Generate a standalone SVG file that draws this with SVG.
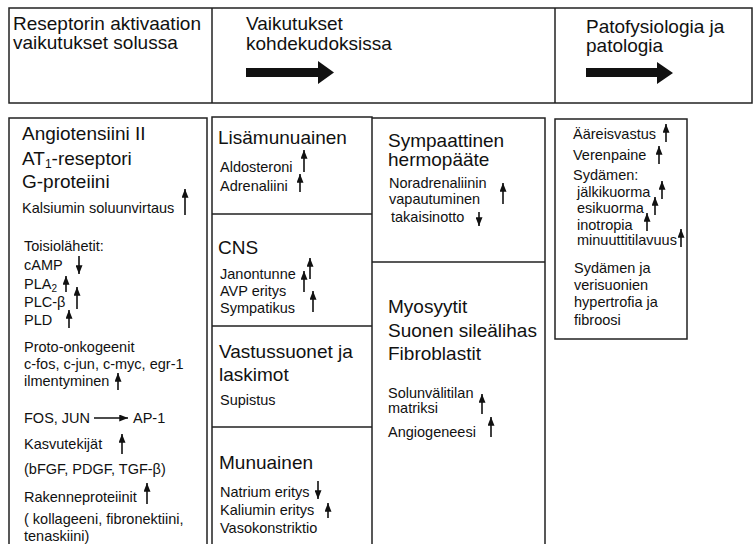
<svg xmlns="http://www.w3.org/2000/svg" width="756" height="544" viewBox="0 0 756 544">
<style>
text{font-family:"Liberation Sans",Arial,sans-serif;fill:#111}
.b{font-size:19px}
.s{font-size:14.5px}
.box{fill:none;stroke:#222;stroke-width:1.5}
.ar{stroke:#111;stroke-width:1.6;fill:none}
</style>
<defs>
<marker id="ah" viewBox="0 0 10 8" refX="10" refY="4" markerWidth="9" markerHeight="7" markerUnits="userSpaceOnUse" orient="auto">
<path d="M0,0 L10,4 L0,8 z" fill="#111"/>
</marker>
</defs>
<rect width="756" height="544" fill="#fff"/>

<g id="header">
<rect class="box" x="9" y="8" width="743" height="95"/>
<line class="box" x1="212" y1="8" x2="212" y2="103"/>
<line class="box" x1="555" y1="8" x2="555" y2="103"/>
<text class="b" x="13" y="30">Reseptorin aktivaation</text>
<text class="b" x="13" y="49">vaikutukset solussa</text>
<text class="b" x="246" y="30">Vaikutukset</text>
<text class="b" x="246" y="50">kohdekudoksissa</text>
<polygon points="246,68 318,68 318,61 334,72.5 318,84 318,77 246,77" fill="#111"/>
<text class="b" x="586" y="33">Patofysiologia ja</text>
<text class="b" x="586" y="52">patologia</text>
<polygon points="586,68 657,68 657,62 673,73 657,84 657,77 586,77" fill="#111"/>
</g>

<g id="cell">
<path class="box" d="M9,548 V118 H207 V548"/>
<text class="b" x="22" y="140">Angiotensiini II</text>
<text class="b" x="22" y="165">AT<tspan font-size="12" dy="3">1</tspan><tspan dy="-3">-reseptori</tspan></text>
<text class="b" x="22" y="188">G-proteiini</text>
<text class="s" x="22" y="213">Kalsiumin soluunvirtaus</text>
<text class="s" x="24" y="251">Toisiolähetit:</text>
<text class="s" x="24" y="270">cAMP</text>
<text class="s" x="24" y="289">PLA<tspan font-size="10" dy="3">2</tspan></text>
<text class="s" x="24" y="307">PLC-β</text>
<text class="s" x="24" y="325">PLD</text>
<text class="s" x="24" y="352">Proto-onkogeenit</text>
<text class="s" x="24" y="369">c-fos, c-jun, c-myc, egr-1</text>
<text class="s" x="24" y="386">ilmentyminen</text>
<text class="s" x="24" y="423">FOS, JUN</text>
<text class="s" x="133" y="423">AP-1</text>
<text class="s" x="24" y="449">Kasvutekijät</text>
<text class="s" x="24" y="474">(bFGF, PDGF, TGF-β)</text>
<text class="s" x="24" y="502">Rakenneproteiinit</text>
<text class="s" x="24" y="524">( kollageeni, fibronektiini,</text>
<text class="s" x="24" y="541">tenaskiini)</text>
</g>

<g id="lisamunuainen">
<path class="box" d="M212,548 V117 H372 V548 M212,214 H372 M212,326 H372 M212,427 H372"/>
<text class="b" x="218" y="144">Lisämunuainen</text>
<text class="s" x="220" y="172">Aldosteroni</text>
<text class="s" x="220" y="191">Adrenaliini</text>
</g>
<g id="cns">
<text class="b" x="218" y="254">CNS</text>
<text class="s" x="220" y="279">Janontunne</text>
<text class="s" x="220" y="296">AVP eritys</text>
<text class="s" x="220" y="313">Sympatikus</text>
</g>
<g id="vastussuonet">
<text class="b" x="219" y="358">Vastussuonet ja</text>
<text class="b" x="219" y="381">laskimot</text>
<text class="s" x="220" y="405">Supistus</text>
</g>
<g id="munuainen">
<text class="b" x="219" y="469">Munuainen</text>
<text class="s" x="220" y="497">Natrium eritys</text>
<text class="s" x="220" y="515">Kaliumin eritys</text>
<text class="s" x="220" y="533">Vasokonstriktio</text>
</g>

<g id="sympaattinen">
<path class="box" d="M372,118 H545 V548 M372,262 H545"/>
<text class="b" x="388" y="147">Sympaattinen</text>
<text class="b" x="388" y="166">hermopääte</text>
<text class="s" x="389" y="188">Noradrenaliinin</text>
<text class="s" x="389" y="204">vapautuminen</text>
<text class="s" x="391" y="222">takaisinotto</text>
</g>
<g id="myosyytit">
<text class="b" x="388" y="313">Myosyytit</text>
<text class="b" x="388" y="337">Suonen sileälihas</text>
<text class="b" x="388" y="360">Fibroblastit</text>
<text class="s" x="388" y="398">Solunvälitilan</text>
<text class="s" x="388" y="413">matriksi</text>
<text class="s" x="388" y="437">Angiogeneesi</text>
</g>

<g id="patofysiologia">
<rect class="box" x="555" y="119" width="132" height="220"/>
<text class="s" x="573" y="139">Ääreisvastus</text>
<text class="s" x="573" y="160">Verenpaine</text>
<text class="s" x="573" y="180">Sydämen:</text>
<text class="s" x="577" y="197">jälkikuorma</text>
<text class="s" x="577" y="213">esikuorma</text>
<text class="s" x="577" y="230">inotropia</text>
<text class="s" x="577" y="245">minuuttitilavuus</text>
<text class="s" x="574" y="273">Sydämen ja</text>
<text class="s" x="574" y="290">verisuonien</text>
<text class="s" x="574" y="307">hypertrofia ja</text>
<text class="s" x="574" y="325">fibroosi</text>
</g>

<g id="connectors" class="ar" marker-end="url(#ah)">
<line x1="185" y1="215" x2="185" y2="189"/>
<line x1="79" y1="256" x2="79" y2="274"/>
<line x1="66" y1="292" x2="66" y2="276"/>
<line x1="77" y1="309" x2="77" y2="287"/>
<line x1="69" y1="328" x2="69" y2="310"/>
<line x1="118" y1="390" x2="118" y2="373"/>
<line x1="94" y1="418" x2="128" y2="418"/>
<line x1="122" y1="454" x2="122" y2="434"/>
<line x1="147" y1="504" x2="147" y2="483"/>
<line x1="304" y1="172" x2="304" y2="150"/>
<line x1="300" y1="192" x2="300" y2="174"/>
<line x1="310" y1="279" x2="310" y2="258"/>
<line x1="304" y1="292" x2="304" y2="271"/>
<line x1="313" y1="312" x2="313" y2="291"/>
<line x1="318" y1="481" x2="318" y2="499"/>
<line x1="328" y1="518" x2="328" y2="503"/>
<line x1="503" y1="204" x2="503" y2="183"/>
<line x1="479" y1="212" x2="479" y2="226"/>
<line x1="482" y1="414" x2="482" y2="394"/>
<line x1="491" y1="437" x2="491" y2="417"/>
<line x1="666" y1="142" x2="666" y2="124"/>
<line x1="659" y1="164" x2="659" y2="146"/>
<line x1="662" y1="199" x2="662" y2="181"/>
<line x1="655" y1="215" x2="655" y2="197"/>
<line x1="647" y1="231" x2="647" y2="213"/>
<line x1="681" y1="247" x2="681" y2="229"/>
</g>
</svg>
